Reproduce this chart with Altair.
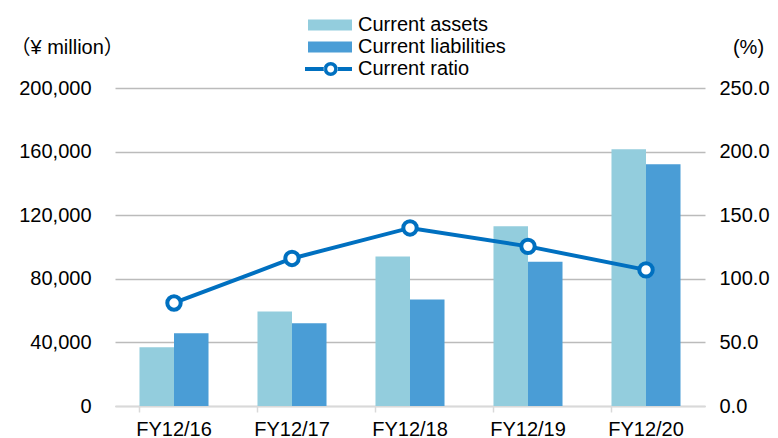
import altair as alt
import pandas as pd

years = ["FY12/16", "FY12/17", "FY12/18", "FY12/19", "FY12/20"]
current_assets = [37000, 59500, 94000, 113000, 161500]
current_liabilities = [45700, 52000, 67000, 90800, 152000]
current_ratio = [81.0, 116.0, 140.0, 125.5, 107.0]
series_names = ["Current assets", "Current liabilities", "Current ratio"]
series_colors = ["#93CDDD", "#4A9DD6", "#0070C0"]
left_ticks = [0, 40000, 80000, 120000, 160000, 200000]
right_ticks = [0, 50, 100, 150, 200, 250]

FONT = "Liberation Sans, Arial, Noto Sans CJK JP"

bar_df = pd.DataFrame(
    {
        "year": years * 2,
        "series": [series_names[0]] * len(years) + [series_names[1]] * len(years),
        "value": current_assets + current_liabilities,
    }
)
ratio_df = pd.DataFrame({"year": years, "ratio": current_ratio})
legend_df = pd.DataFrame({"series": series_names})

# legend symbol paths (custom shapes)
rect_path = "M-1,-0.55H3.4V0.55H-1Z"
ratio_path = (
    "M-1.3,-0.2H0.62V0.2H-1.3Z"
    "M1.92,-0.2H3.4V0.2H1.92Z"
    "M0.57,0A0.7,0.7 0 1,0 1.97,0A0.7,0.7 0 1,0 0.57,0Z"
    "M0.92,0A0.35,0.35 0 1,1 1.62,0A0.35,0.35 0 1,1 0.92,0Z"
)

color_scale = alt.Scale(domain=series_names, range=series_colors)
x_scale = alt.Scale(domain=years, paddingInner=0.415, paddingOuter=0.2075)

x_axis = alt.Axis(
    title=None,
    labelAngle=0,
    bandPosition=0,
    tickSize=6,
    tickColor="#D9D9D9",
    tickWidth=1.5,
    domainColor="#D9D9D9",
    domainWidth=1.5,
    labelPadding=7,
    labelFontSize=20,
    labelColor="#000000",
    grid=False,
)

left_axis = alt.Axis(
    values=left_ticks,
    format=",.0f",
    grid=True,
    gridColor="#BBBBBB",
    gridWidth=1.5,
    domain=False,
    ticks=False,
    tickSize=0,
    labelPadding=24,
    labelFontSize=20,
    labelColor="#000000",
    title="（¥ million）",
    titleAngle=0,
    titleX=-105,
    titleY=-41,
    titleAlign="left",
    titleBaseline="middle",
    titleFontWeight="normal",
    titleFontSize=20,
    titleColor="#000000",
)

right_axis = alt.Axis(
    orient="right",
    values=right_ticks,
    format=".1f",
    grid=False,
    domain=False,
    ticks=False,
    tickSize=0,
    labelPadding=14,
    labelFontSize=20,
    labelColor="#000000",
    title="(%)",
    titleAngle=0,
    titleX=43,
    titleY=-41,
    titleAlign="center",
    titleBaseline="middle",
    titleFontWeight="normal",
    titleFontSize=20,
    titleColor="#000000",
)

legend = alt.Legend(
    title=None,
    orient="none",
    legendX=193,
    legendY=-73,
    direction="vertical",
    symbolSize=400,
    labelOffset=30,
    labelFontSize=20,
    labelFont=FONT,
    labelColor="#000000",
    rowPadding=2,
    padding=0,
    symbolStrokeWidth=0,
    symbolOpacity=1,
)

bars = alt.Chart(bar_df).mark_bar().encode(
    x=alt.X("year:N", scale=x_scale, axis=x_axis, sort=years),
    xOffset=alt.XOffset("series:N", sort=series_names[:2]),
    y=alt.Y("value:Q", scale=alt.Scale(domain=[0, 200000], nice=False), axis=left_axis),
    color=alt.Color("series:N", scale=color_scale, legend=legend),
)

line = alt.Chart(ratio_df).mark_line(
    strokeWidth=4,
    color="#0070C0",
    point=alt.OverlayMarkDef(
        filled=False, fill="white", fillOpacity=1, size=180, strokeWidth=4,
        stroke="#0070C0", opacity=1,
    ),
).encode(
    x=alt.X("year:N", scale=x_scale, sort=years),
    y=alt.Y("ratio:Q", scale=alt.Scale(domain=[0, 250], nice=False), axis=right_axis),
)

helper = alt.Chart(legend_df).mark_point(filled=True, size=0, opacity=1, strokeWidth=0).encode(
    color=alt.Color("series:N", scale=color_scale, legend=legend),
    shape=alt.Shape(
        "series:N",
        scale=alt.Scale(domain=series_names, range=[rect_path, rect_path, ratio_path]),
        legend=legend,
    ),
)

chart = (
    alt.layer(bars, line, helper)
    .resolve_scale(y="independent")
    .properties(
        width=590,
        height=318,
        autosize=alt.AutoSizeParams(type="none"),
        padding={"left": 107, "top": 80, "right": 65, "bottom": 32},
    )
    .configure(font=FONT)
    .configure_view(stroke=None)
)

chart.save("out.html", embed_options={"renderer": "svg", "actions": False})
